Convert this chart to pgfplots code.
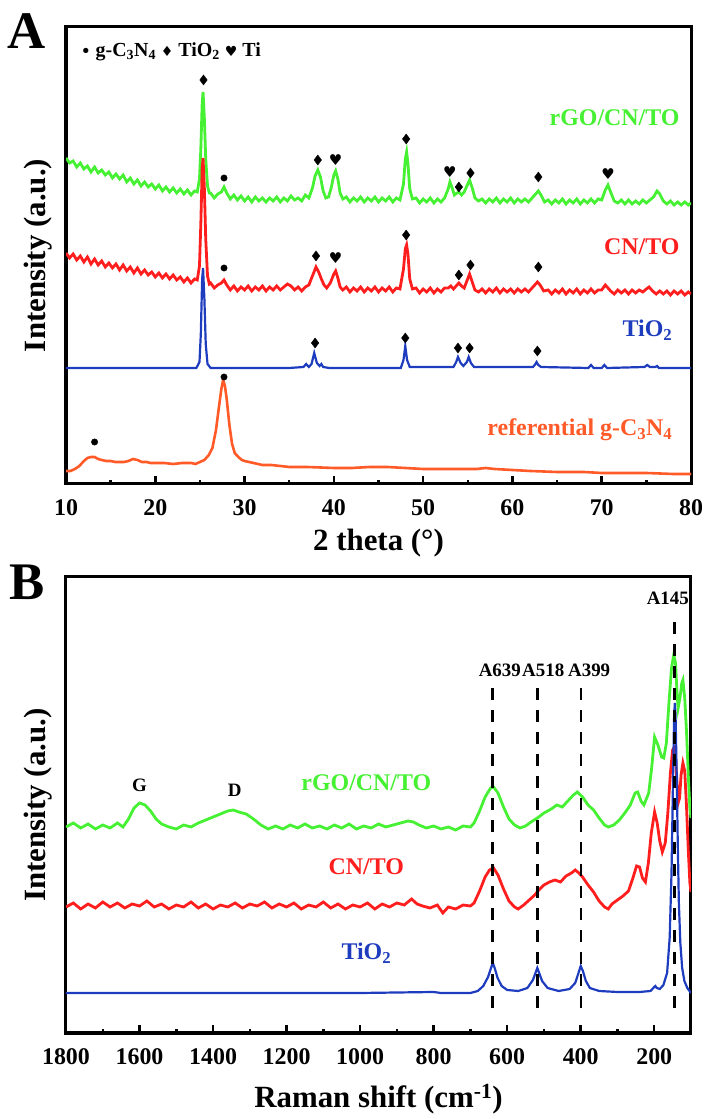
\documentclass[border=0pt]{standalone}
\usepackage{fontspec}
\setmainfont{Liberation Serif}
\newfontfamily\symfont{DejaVu Sans}
\usepackage{pgfplots}
\pgfplotsset{compat=1.18}
\definecolor{cgreen}{RGB}{70,240,50}
\definecolor{cred}{RGB}{255,30,30}
\definecolor{cblue}{RGB}{30,60,190}
\definecolor{corange}{RGB}{255,90,40}
\pgfplotsset{
  myaxis/.style={
    scale only axis, width=625bp,
    axis line style={line width=3bp},
    tick align=inside, xtick pos=lower, ytick=\empty,
    major tick length=8bp, minor tick length=4bp,
    tick style={black, line width=2.5bp},
    minor x tick num=1,
    /pgf/number format/assume math mode=true,
    /pgf/number format/1000 sep={},
    xticklabel style={font=\fontsize{24}{24}\selectfont\bfseries, anchor=center, yshift=-24bp},
    label style={font=\fontsize{31}{31}\selectfont\bfseries},
    ylabel={Intensity (a.u.)},
    ylabel style={at={(axis description cs:-0.044,0.5)}, anchor=center},
    xlabel style={at={(axis description cs:0.5,0)}, anchor=center},
  },
}
\tikzset{
  lbl/.style={font=\fontsize{24}{24}\selectfont\bfseries},
  ann/.style={font=\fontsize{19}{19}\selectfont\bfseries},
  dsh/.style={black, line width=2.8bp, dash pattern=on 12bp off 10bp},
}
\begin{document}
\begin{tikzpicture}
\path[use as bounding box] (0,0) rectangle (710bp,1119bp);
\node[font=\fontsize{53}{53}\selectfont\bfseries] at (27bp,1088bp) {A};
\node[font=\fontsize{53}{53}\selectfont\bfseries] at (27bp,537bp) {B};
% ---------------- Panel A ----------------
\begin{axis}[myaxis, at={(66bp,635bp)}, anchor=south west, height=457bp,
  xmin=10, xmax=80, ymin=0, ymax=457, xtick={10,20,...,80},
  xlabel={2 theta (°)}, xlabel style={yshift=-59bp}]
\addplot[cgreen, line width=2.8bp] coordinates {
(10.0,326)(10.4,321)(10.8,323)(11.2,317)(11.6,321)(12.0,315)(12.4,318)(12.8,312)(13.2,317)(13.6,311)
(14.0,314)(14.4,309)(14.8,312)(15.2,306)(15.6,310)(16.0,305)(16.4,309)(16.8,302)(17.2,306)(17.6,300)
(18.0,304)(18.4,298)(18.8,302)(19.2,297)(19.6,300)(20.0,295)(20.4,299)(20.8,293)(21.2,297)(21.6,292)
(22.0,296)(22.4,291)(22.8,295)(23.2,290)(23.6,294)(24.0,289)(24.4,293)(24.7,292)(24.95,305)(25.1,335)
(25.25,380)(25.35,392)(25.5,365)(25.65,325)(25.85,298)(26.05,291)(26.2,291)(26.6,286)(27.0,290)(27.4,292)(27.7,297)(28.0,291)
(28.4,285)(28.8,289)(29.2,284)(29.6,288)(30.0,283)(30.4,287)(30.8,282)(31.2,287)(31.6,283)(32.0,286)
(32.4,282)(32.8,286)(33.2,283)(33.6,287)(34.0,282)(34.4,286)(34.8,283)(35.2,288)(35.6,284)(36.0,286)
(36.4,283)(36.8,289)(37.2,286)(37.6,296)(37.9,308)(38.2,314)(38.5,307)(38.8,293)(39.1,286)(39.4,287)
(39.7,296)(40.0,309)(40.2,313)(40.45,305)(40.7,291)(41.0,285)(41.4,287)(41.8,282)(42.2,286)(42.6,283)
(43.0,287)(43.4,282)(43.8,286)(44.2,283)(44.6,287)(45.0,282)(45.4,286)(45.8,283)(46.2,287)(46.6,282)
(47.0,286)(47.4,284)(47.8,300)(48.0,325)(48.15,332)(48.3,320)(48.5,295)(48.8,285)(49.2,286)(49.6,281)
(50.0,285)(50.4,282)(50.8,286)(51.2,281)(51.6,285)(52.0,282)(52.4,286)(52.8,295)(53.0,302)(53.25,296)
(53.5,289)(53.8,291)(54.0,292)(54.3,289)(54.6,292)(54.9,298)(55.2,304)(55.5,296)(55.8,286)(56.2,283)
(56.6,285)(57.0,281)(57.4,285)(57.8,282)(58.2,286)(58.6,281)(59.0,285)(59.4,282)(59.8,286)(60.2,281)
(60.6,285)(61.0,282)(61.4,285)(61.8,282)(62.2,286)(62.6,290)(62.9,293)(63.2,289)(63.6,282)(64.0,284)
(64.4,280)(64.8,284)(65.2,281)(65.6,285)(66.0,280)(66.4,284)(66.8,281)(67.2,285)(67.6,280)(68.0,284)
(68.4,281)(68.8,285)(69.2,281)(69.6,285)(70.0,284)(70.4,294)(70.7,299)(71.0,292)(71.4,283)(71.8,281)
(72.2,284)(72.6,280)(73.0,284)(73.4,280)(73.8,283)(74.2,280)(74.6,284)(75.0,281)(75.4,284)(75.8,287)
(76.2,293)(76.5,290)(76.9,283)(77.3,280)(77.7,283)(78.1,279)(78.5,282)(78.9,279)(79.3,282)(79.7,279)(80.0,281)};
\addplot[cred, line width=2.8bp] coordinates {
(10.0,231)(10.4,226)(10.8,230)(11.2,224)(11.6,228)(12.0,222)(12.4,227)(12.8,220)(13.2,225)(13.6,219)
(14.0,223)(14.4,217)(14.8,221)(15.2,216)(15.6,220)(16.0,214)(16.4,219)(16.8,213)(17.2,217)(17.6,211)
(18.0,216)(18.4,210)(18.8,214)(19.2,209)(19.6,212)(20.0,207)(20.4,211)(20.8,206)(21.2,210)(21.6,205)
(22.0,209)(22.4,204)(22.8,207)(23.2,202)(23.6,206)(24.0,201)(24.4,205)(24.7,204)(24.95,218)(25.1,260)
(25.25,315)(25.35,326)(25.5,295)(25.65,245)(25.85,208)(26.05,200)(26.2,201)(26.6,196)(27.0,199)(27.4,201)(27.7,204)(28.0,199)
(28.4,194)(28.8,198)(29.2,193)(29.6,197)(30.0,194)(30.4,198)(30.8,193)(31.2,197)(31.6,194)(32.0,198)
(32.4,193)(32.8,197)(33.2,194)(33.6,198)(34.0,194)(34.4,197)(34.8,200)(35.2,198)(35.6,194)(36.0,197)
(36.4,193)(36.8,197)(37.2,199)(37.6,208)(38.0,217)(38.3,212)(38.6,205)(38.9,199)(39.2,196)(39.6,201)
(40.0,210)(40.2,213)(40.45,206)(40.7,197)(41.0,194)(41.4,197)(41.8,192)(42.2,196)(42.6,193)(43.0,197)
(43.4,192)(43.8,196)(44.2,193)(44.6,197)(45.0,192)(45.4,196)(45.8,193)(46.2,197)(46.6,192)(47.0,196)
(47.4,195)(47.8,215)(48.0,235)(48.15,239)(48.3,230)(48.5,205)(48.8,195)(49.2,196)(49.6,191)(50.0,195)
(50.4,192)(50.8,196)(51.2,191)(51.6,195)(52.0,192)(52.4,196)(52.8,196)(53.1,198)(53.4,195)(53.8,199)
(54.0,201)(54.3,198)(54.6,196)(54.9,203)(55.2,210)(55.5,202)(55.8,194)(56.2,192)(56.6,195)(57.0,191)
(57.4,195)(57.8,192)(58.2,196)(58.6,191)(59.0,195)(59.4,192)(59.8,195)(60.2,191)(60.6,195)(61.0,192)
(61.4,195)(61.8,192)(62.2,196)(62.5,199)(62.8,202)(63.1,199)(63.5,193)(64.0,194)(64.4,190)(64.8,194)
(65.2,191)(65.6,195)(66.0,190)(66.4,194)(66.8,191)(67.2,195)(67.6,190)(68.0,194)(68.4,191)(68.8,195)
(69.2,191)(69.6,194)(70.0,194)(70.4,199)(70.7,196)(71.0,193)(71.4,190)(71.8,194)(72.2,191)(72.6,194)
(73.0,190)(73.4,194)(73.8,191)(74.2,194)(74.6,192)(75.0,195)(75.3,197)(75.7,193)(76.1,190)(76.5,193)
(76.9,190)(77.3,193)(77.7,189)(78.1,193)(78.5,190)(78.9,193)(79.3,189)(79.7,192)(80.0,190)};
\addplot[cblue, line width=2.2bp] coordinates {
(10,116)(15,116)(20,116)(24.6,116)(24.95,122)(25.1,150)(25.25,205)(25.35,216)(25.5,185)(25.65,140)(25.85,120)(26.2,116)
(30,116)(35,116)(36.6,117)(36.9,120)(37.2,117)(37.5,120)(37.8,131)(38.1,121)(38.4,118)(38.6,120)
(38.8,117)(39.5,116)(47.5,116)(47.8,124)(48.0,138)(48.2,124)(48.5,117)(53.4,117)(53.7,122)(53.9,127)
(54.2,121)(54.5,118)(54.9,122)(55.1,127)(55.35,121)(55.7,117)(62.3,117)(62.5,119)(62.7,122)(62.9,119)
(63.2,117)(68.5,116)(68.8,119)(69.1,116)(70.0,116)(70.3,119)(70.6,116)(74.8,117)(75.1,119)(75.4,117)
(76.0,117)(76.2,118)(76.4,116)(80,116)};
\addplot[corange, line width=2.6bp] coordinates {
(10,13)(10.5,13)(11,15)(11.5,18)(12,23)(12.4,26)(12.8,27)(13.2,27)(13.6,25)(14.0,24)(14.5,23)(15,23)
(15.5,22)(16,22)(16.5,22)(17,23)(17.5,25)(18,24)(18.5,22)(19,22)(19.5,21)(20,21)(21,21)(22,20)(23,21)
(24,21)(24.5,20)(25,22)(25.5,24)(26,29)(26.4,36)(26.8,54)(27.1,75)(27.4,95)(27.6,104)(27.8,98)(28.0,85)
(28.3,59)(28.6,40)(28.9,31)(29.3,27)(29.7,24)(30,23)(31,21)(32,19)(33,19)(34,18)(35,17)(37,17)(40,16)
(42,16)(44,17)(46,17)(48,16)(50,15)(52,15)(54,15)(56,15)(57,16)(58,15)(60,14)(62,13)(65,12)(68,12)
(70,11)(72,11)(75,11)(78,10)(80,10)};
% peak markers
\addplot[only marks, mark=diamond*, mark size=5bp, black] coordinates {
(25.4,404)(38.2,324)(48.1,345)(54.0,297)(55.3,311)(62.9,307)
(38.0,228)(48.1,249)(54.0,209)(55.3,219)(62.9,217)
(37.9,141)(48.0,146)(53.9,136)(55.2,136)(62.8,133)};
\addplot[only marks, mark=*, mark size=3.2bp, black] coordinates {
(27.7,306)(27.7,216)(13.2,42)(27.7,107)};
\addplot[only marks, mark=text, text mark={\symfont\fontsize{15}{15}\selectfont ♥}, black] coordinates {
(40.2,324)(53.0,312)(70.7,310)(40.2,226)};
\node[lbl, text=cgreen, anchor=east] at (axis cs:79.1,366) {rGO/CN/TO};
\node[lbl, text=cred, anchor=east] at (axis cs:79.1,237) {CN/TO};
\node[lbl, text=cblue, anchor=east] at (axis cs:78.3,154) {TiO\textsubscript{2}};
\node[lbl, text=corange, anchor=east] at (axis cs:78.3,54) {referential g-C\textsubscript{3}N\textsubscript{4}};
\node[font=\fontsize{20}{20}\selectfont\bfseries, anchor=west] at (axis cs:11.3,432)
  {{\symfont\fontsize{15}{15}\selectfont •} g-C\textsubscript{3}N\textsubscript{4} {\symfont\fontsize{14}{14}\selectfont ♦} TiO\textsubscript{2} {\symfont\fontsize{14}{14}\selectfont ♥} Ti};
\end{axis}
% ---------------- Panel B ----------------
\begin{axis}[myaxis, at={(66bp,86bp)}, anchor=south west, height=456bp,
  xmin=100, xmax=1800, x dir=reverse, ymin=0, ymax=456, xtick={200,400,...,1800},
  xlabel={Raman shift (cm\textsuperscript{-1})}, xlabel style={yshift=-66bp}]
\addplot[cgreen, line width=2.8bp] coordinates {
(1800,206)(1780,210)(1760,205)(1740,209)(1720,204)(1700,208)(1680,205)(1660,210)(1645,206)(1630,214)
(1615,225)(1600,230)(1585,228)(1570,222)(1555,214)(1540,209)(1520,206)(1500,204)(1480,208)(1460,206)
(1440,210)(1420,213)(1400,216)(1380,219)(1360,222)(1345,223)(1330,221)(1310,219)(1290,214)(1270,208)
(1250,204)(1230,207)(1210,204)(1190,208)(1170,205)(1150,209)(1130,205)(1110,207)(1090,204)(1070,208)
(1050,205)(1030,209)(1010,204)(990,207)(970,205)(950,209)(930,206)(910,208)(890,210)(870,212)(855,211)
(840,208)(820,205)(800,207)(780,204)(760,206)(740,203)(720,207)(700,206)(690,210)(675,222)(660,236)
(645,245)(637,246)(625,240)(610,226)(595,214)(580,208)(565,205)(550,207)(535,211)(518,215)(500,220)
(480,224)(465,228)(450,226)(435,232)(420,238)(409,241)(395,236)(380,228)(365,223)(350,215)(335,208)
(325,206)(310,208)(295,213)(280,220)(265,228)(252,240)(245,241)(236,232)(228,228)(215,240)(207,265)
(199,296)(190,288)(180,276)(174,275)(167,290)(160,330)(153,365)(147,378)(142,370)(138,340)(135,325)
(130,335)(125,350)(122,353)(117,335)(112,300)(107,255)(103,225)(100,215)};
\addplot[cred, line width=2.8bp] coordinates {
(1800,126)(1780,130)(1760,124)(1740,129)(1720,125)(1700,131)(1680,126)(1660,130)(1640,125)(1620,129)
(1600,127)(1580,132)(1560,126)(1540,129)(1520,124)(1500,128)(1480,126)(1460,131)(1440,125)(1420,129)
(1400,124)(1380,128)(1360,126)(1340,130)(1320,125)(1300,129)(1280,127)(1260,131)(1240,125)(1220,129)
(1200,126)(1180,130)(1160,124)(1140,128)(1120,126)(1100,131)(1080,125)(1060,129)(1040,124)(1020,128)
(1000,126)(980,130)(960,124)(940,129)(920,126)(900,130)(880,128)(860,134)(845,129)(830,127)(810,125)
(790,128)(775,120)(760,126)(740,124)(720,128)(700,127)(690,130)(675,142)(660,156)(648,163)(637,165)
(625,158)(610,144)(595,132)(580,126)(570,124)(555,128)(540,133)(525,138)(514,143)(500,148)(485,151)
(470,153)(455,151)(440,157)(425,160)(415,163)(405,160)(395,156)(380,148)(365,141)(350,132)(335,126)
(325,124)(315,129)(300,133)(285,137)(270,142)(258,155)(248,167)(240,166)(232,155)(224,151)(216,170)
(208,200)(199,221)(192,210)(185,192)(178,181)(170,190)(163,220)(156,260)(150,283)(146,285)(142,275)
(138,250)(135,230)(131,235)(127,258)(122,270)(117,262)(112,225)(107,180)(103,150)(100,141)};
\addplot[cblue, line width=2.2bp] coordinates {
(1800,40)(1600,40)(1400,40)(1200,40)(1000,40)(800,41)(780,40)(700,40)(680,42)(665,47)(652,56)(644,65)
(639,70)(634,65)(626,55)(615,47)(600,43)(570,42)(545,45)(530,53)(523,60)(518,65)(513,60)(505,52)
(490,45)(460,42)(430,44)(415,50)(406,60)(400,67)(394,62)(386,52)(375,45)(350,42)(300,41)(240,41)
(210,42)(200,46)(197,47)(193,45)(185,44)(175,48)(165,60)(158,95)(153,160)(149,250)(146,315)(144,330)
(142,318)(139,260)(136,190)(133,130)(129,90)(124,65)(118,52)(110,45)(100,40)};
\addplot[dsh] coordinates {(639,25)(639,352)};
\addplot[dsh] coordinates {(518,25)(518,352)};
\addplot[dsh] coordinates {(399,25)(399,352)};
\addplot[dsh] coordinates {(144,25)(144,416)};
\node[ann] at (axis cs:620,363) {A639};
\node[ann] at (axis cs:502,363) {A518};
\node[ann] at (axis cs:377,363) {A399};
\node[ann] at (axis cs:163,435) {A145};
\node[ann] at (axis cs:1600,248) {G};
\node[ann] at (axis cs:1341,243) {D};
\node[lbl, text=cgreen] at (axis cs:983,250) {rGO/CN/TO};
\node[lbl, text=cred] at (axis cs:983,166) {CN/TO};
\node[lbl, text=cblue] at (axis cs:983,80) {TiO\textsubscript{2}};
\end{axis}
\end{tikzpicture}
\end{document}
